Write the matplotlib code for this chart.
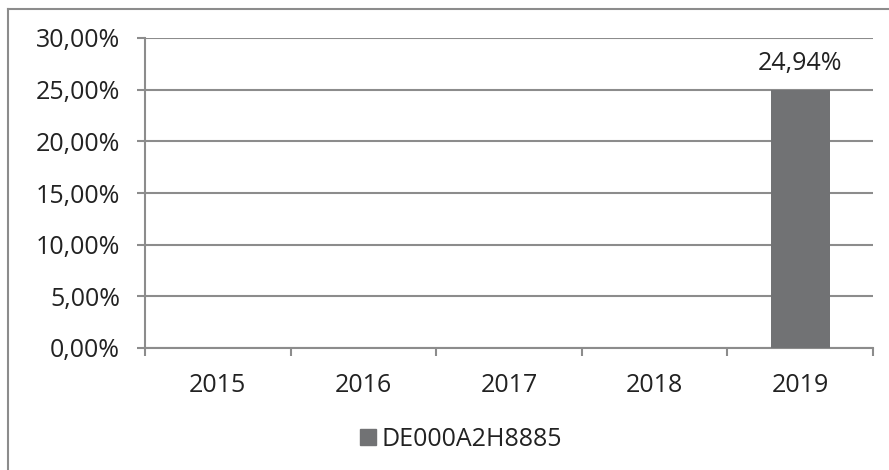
import matplotlib.pyplot as plt
from matplotlib.lines import Line2D
from matplotlib.ticker import FuncFormatter, FixedLocator

plt.rcParams['font.family'] = ['Open Sans', 'DejaVu Sans']

# Data
years = ['2015', '2016', '2017', '2018', '2019']
returns = [None, None, None, None, 24.94]
series_name = 'DE000A2H8885'

grid_col = '#8c8c8c'
bar_col = '#717274'
txt_col = '#222222'
fs = 18

fig = plt.figure(figsize=(8.89, 4.70), dpi=100)
ax = fig.add_axes([145/889, (470-348)/470, (873-145)/889, (348-38)/470])

xs = [i for i, v in enumerate(returns) if v is not None]
vals = [v for v in returns if v is not None]
ax.bar(xs, vals, width=0.405, color=bar_col, zorder=3)
for x, v in zip(xs, vals):
    ax.annotate(f'{v:.2f}%'.replace('.', ','), (x, v), xytext=(0, 14),
                textcoords='offset pixels', ha='center', va='bottom',
                fontsize=fs, color=txt_col)

ax.set_xlim(-0.5, len(years) - 0.5)
ax.set_ylim(0, 30)
ax.set_yticks(range(0, 31, 5))
ax.yaxis.set_major_formatter(FuncFormatter(lambda v, p: f'{v:.2f}%'.replace('.', ',')))
ax.set_xticks(range(len(years)))
ax.set_xticklabels(years)
ax.xaxis.set_minor_locator(FixedLocator([i - 0.5 for i in range(len(years) + 1)]))

ax.tick_params(axis='x', which='major', length=0, pad=18, labelsize=fs, labelcolor=txt_col)
ax.tick_params(axis='x', which='minor', length=6, width=1.5, color=grid_col, direction='out')
ax.tick_params(axis='y', length=6, width=1.5, color=grid_col, direction='out', pad=12,
               labelsize=fs, labelcolor=txt_col)

ax.grid(axis='y', color=grid_col, linewidth=1.5, zorder=0)
for s in ['top', 'right']:
    ax.spines[s].set_visible(False)
for s in ['left', 'bottom']:
    ax.spines[s].set_color(grid_col)
    ax.spines[s].set_linewidth(1.5)

# outer frame (left and top edges)
fig.add_artist(Line2D([8/889, 8/889], [0, 1 - 9/470], color=grid_col, lw=1.5))
fig.add_artist(Line2D([8/889, 1], [1 - 9/470, 1 - 9/470], color=grid_col, lw=1.5))

handle = Line2D([], [], marker='s', color=bar_col, linestyle='None', markersize=11)
fig.legend([handle], [series_name], loc='center', bbox_to_anchor=(460/889, 31/470),
           frameon=False, fontsize=fs, handletextpad=0.15, handlelength=0.8,
           labelcolor=txt_col)

fig.savefig('out.png', dpi=100)
